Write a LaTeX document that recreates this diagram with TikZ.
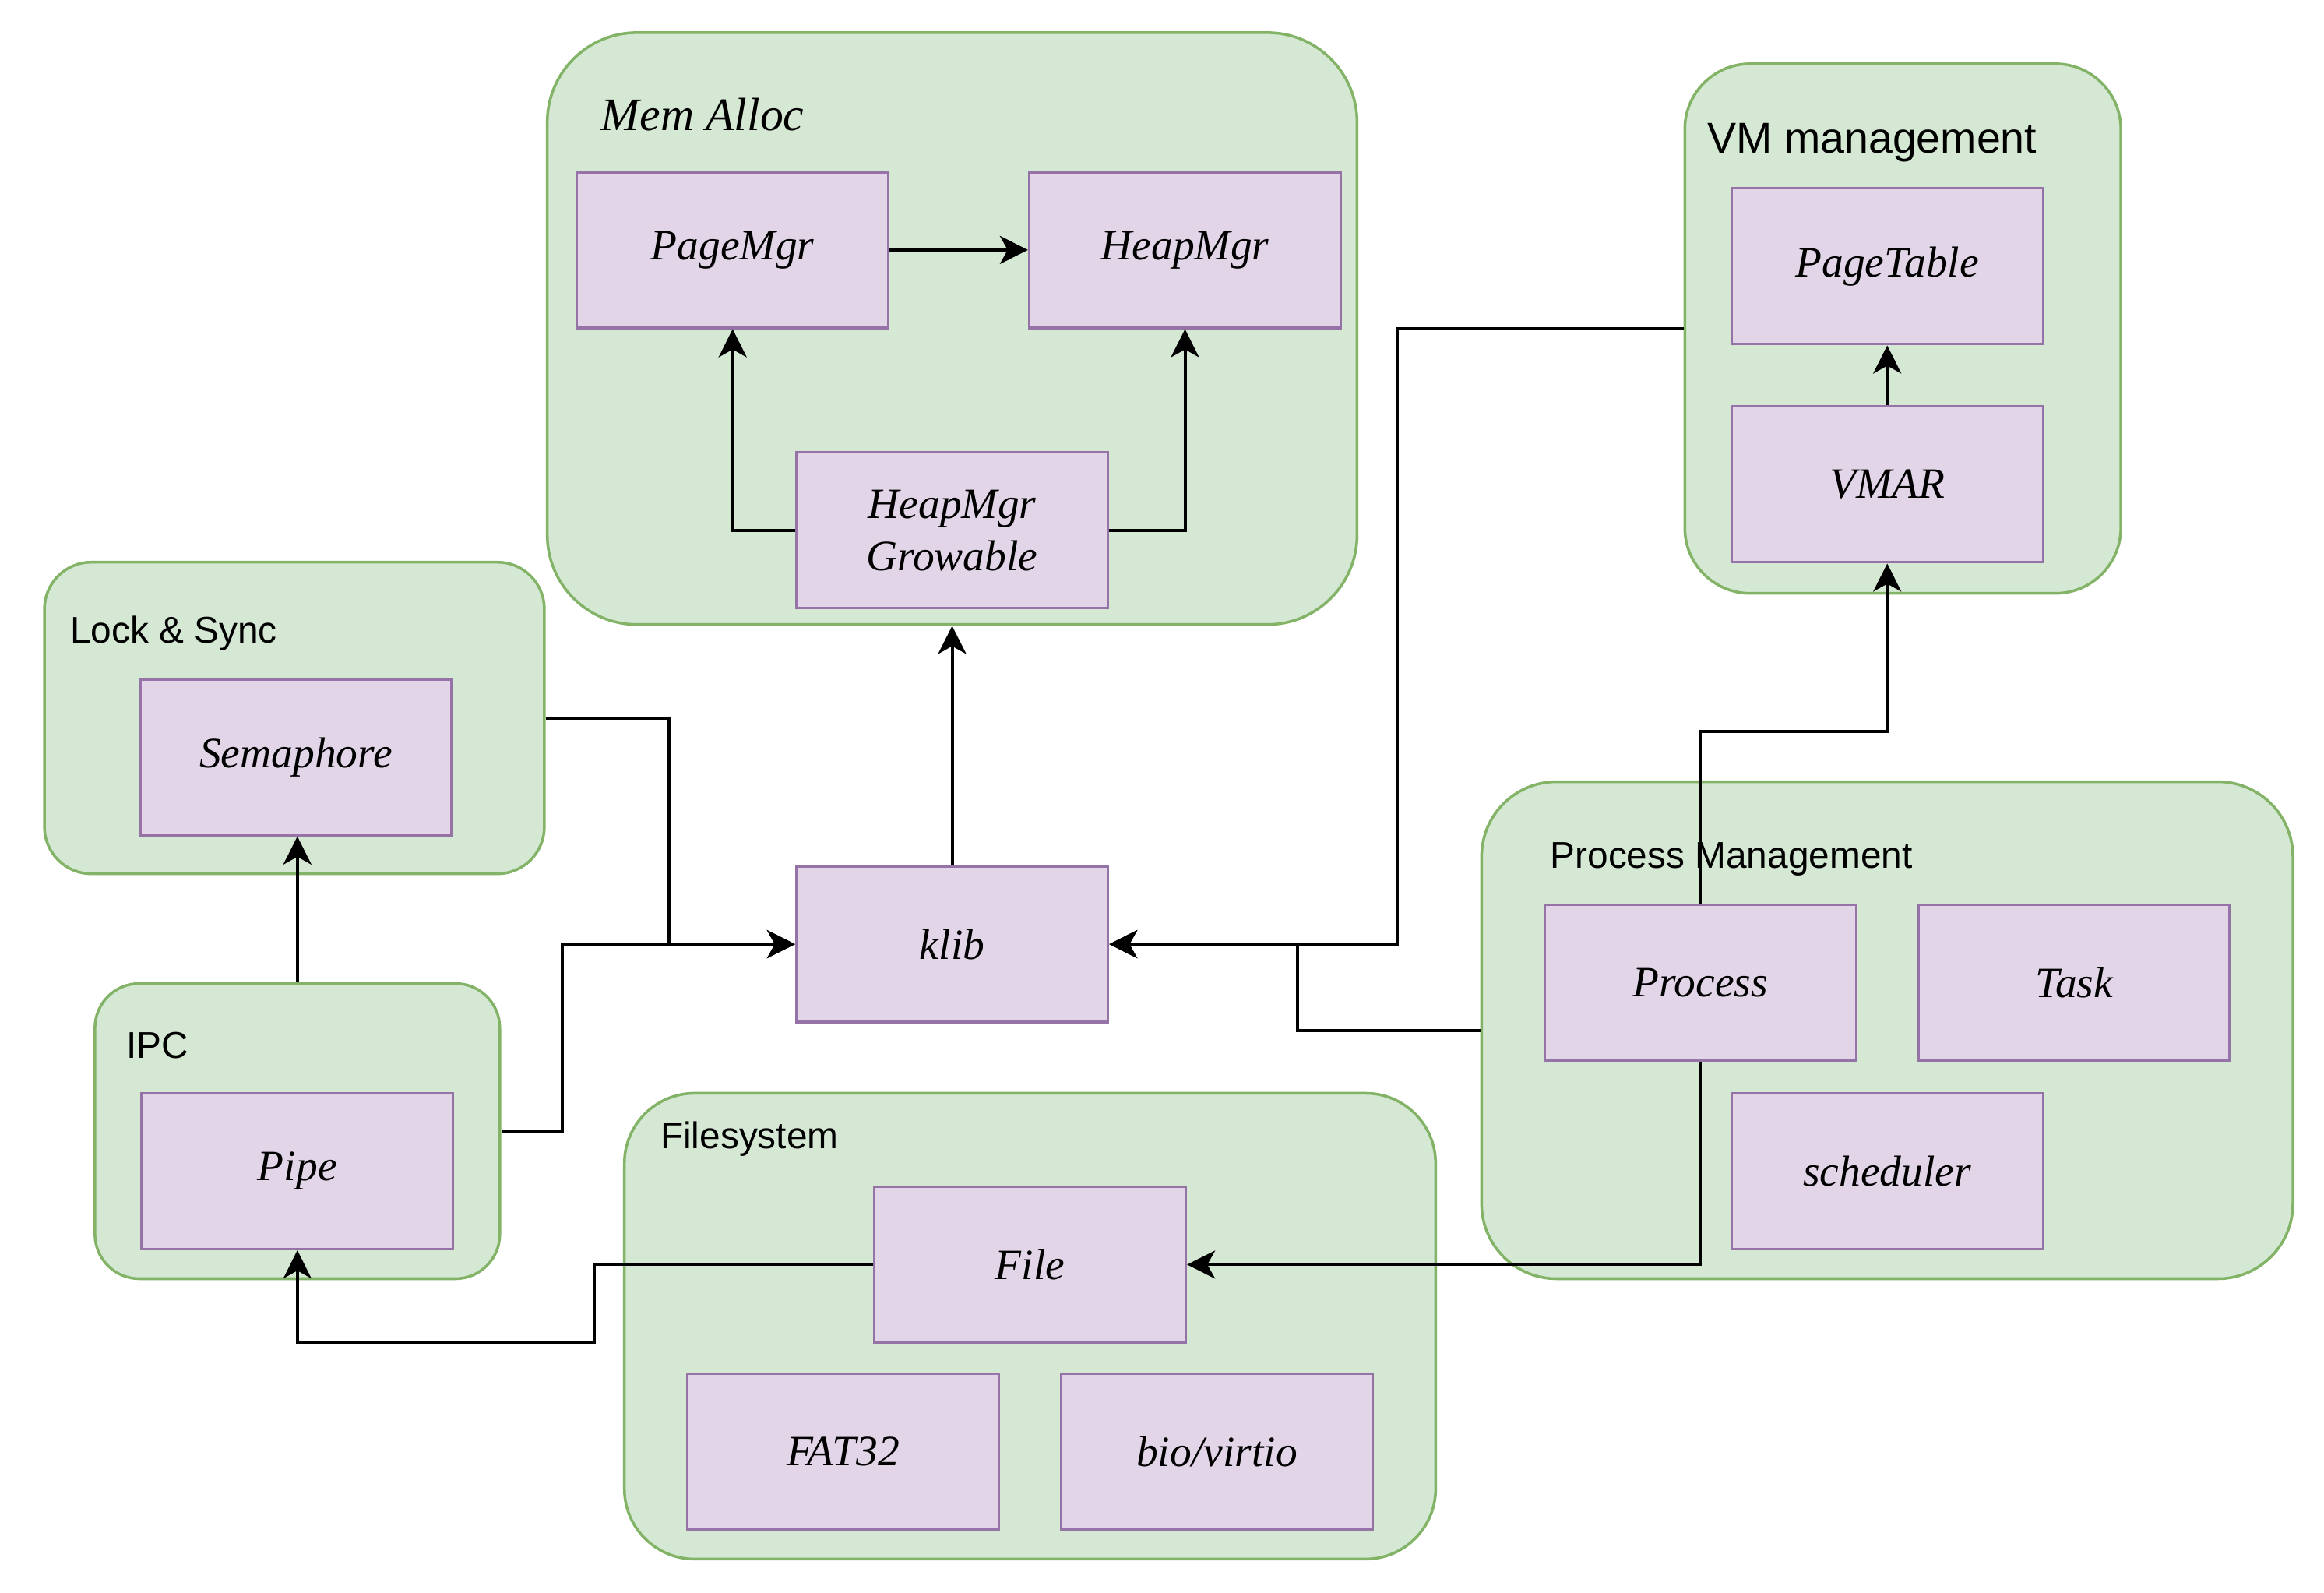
\documentclass[tikz,border=0pt]{standalone}
\usepackage{fontspec}
\setmainfont{Liberation Serif}
\newfontfamily\lsans{Liberation Sans}
\usetikzlibrary{arrows.meta,fit,calc}
\definecolor{gfill}{HTML}{D5E8D4}
\definecolor{gline}{HTML}{82B366}
\definecolor{pfill}{HTML}{E1D5E7}
\definecolor{pline}{HTML}{9673A6}
\begin{document}
\begin{tikzpicture}[x=0.019043cm,y=-0.019043cm,
 grp/.style={draw=gline,fill=gfill,line width=1pt,inner sep=0pt},
 pbox/.style={draw=pline,fill=pfill,line width=0.95pt,minimum width=4.00cm,minimum height=2.00cm,inner sep=0pt,font=\itshape\fontsize{15.8}{19}\selectfont,align=center},
 glab/.style={anchor=west,inner sep=0pt,font=\lsans\fontsize{13.6}{16}\selectfont},
 conn/.style={line width=1.15pt,-{Stealth[length=0.36cm,width=0.36cm,inset=0.1cm]}}
]
\useasboundingbox (0,0) rectangle (1567,1073.4);

% groups
\node[grp, rounded corners=1.15cm, fit={(369,22) (915,421)}] (mem) {};
\node[grp, rounded corners=0.84cm, fit={(1136,43) (1430,400)}] (vm) {};
\node[grp, rounded corners=0.6cm, fit={(30,379) (367,589)}] (lock) {};
\node[grp, rounded corners=0.57cm, fit={(64,663) (337,862)}] (ipc) {};
\node[grp, rounded corners=0.96cm, fit={(999,527) (1546,862)}] (pm) {};
\node[grp, rounded corners=0.9cm, fit={(421,737) (968,1051)}] (fs) {};

% group labels
\node[anchor=west,inner sep=0pt,font=\itshape\fontsize{17}{20}\selectfont] (memlab) at (405,77) {Mem Alloc};
\node[glab,font=\lsans\fontsize{15.8}{19}\selectfont] (vmlab) at (1151,96) {VM management};
\node[glab] (locklab) at (47,427) {Lock \& Sync};
\node[glab] (ipclab) at (85,705) {IPC};
\node[glab] (pmlab) at (1045,579) {Process Management};
\node[glab] (fslab) at (445,768) {Filesystem};

% boxes
\node[pbox] (pagemgr) at (494,168.5) {PageMgr};
\node[pbox] (heapmgr) at (799,168.5) {HeapMgr};
\node[pbox] (grow) at (642,357.5) {HeapMgr\\Growable};
\node[pbox] (pagetable) at (1272.5,179.5) {PageTable};
\node[pbox] (vmar) at (1272.5,326.5) {VMAR};
\node[pbox] (sem) at (199.5,510.5) {Semaphore};
\node[pbox] (pipe) at (200.5,789.5) {Pipe};
\node[pbox] (klib) at (642,636.5) {klib};
\node[pbox] (proc) at (1146.5,662.5) {Process};
\node[pbox] (task) at (1398.5,662.5) {Task};
\node[pbox] (sched) at (1272.5,789.5) {scheduler};
\node[pbox] (file) at (694.5,852.5) {File};
\node[pbox] (fat) at (568.5,978.5) {FAT32};
\node[pbox] (bio) at (820.5,978.5) {bio/virtio};

% connectors
\draw[conn] (pagemgr.east) -- (heapmgr.west);
\draw[conn] (grow.west) -| (pagemgr.south);
\draw[conn] (grow.east) -| (heapmgr.south);
\draw[conn] (klib.north) -- (mem.south);
\draw[conn] (lock.east) -| ($(klib.west)+(-85,0)$) -- (klib.west);
\draw[conn] (ipc.east) -| ($(klib.west)+(-157,0)$) -- (klib.west);
\draw[conn] (ipc.north) -- (ipc.north |- sem.south);
\draw[conn] (vm.west) -| ($(klib.east)+(194,0)$) -- (klib.east);
\draw[conn] (pm.west) -| ($(klib.east)+(127,0)$) -- (klib.east);
\draw[conn] (proc.north) -- ++(0,-116) -| (vmar.south);
\draw[conn] (proc.south) |- (file.east);
\draw[conn] (file.west) -- ++(-188,0) -- ++(0,52.5) -| (pipe.south);
\draw[conn] (vmar.north) -- (pagetable.south);
\end{tikzpicture}
\end{document}
